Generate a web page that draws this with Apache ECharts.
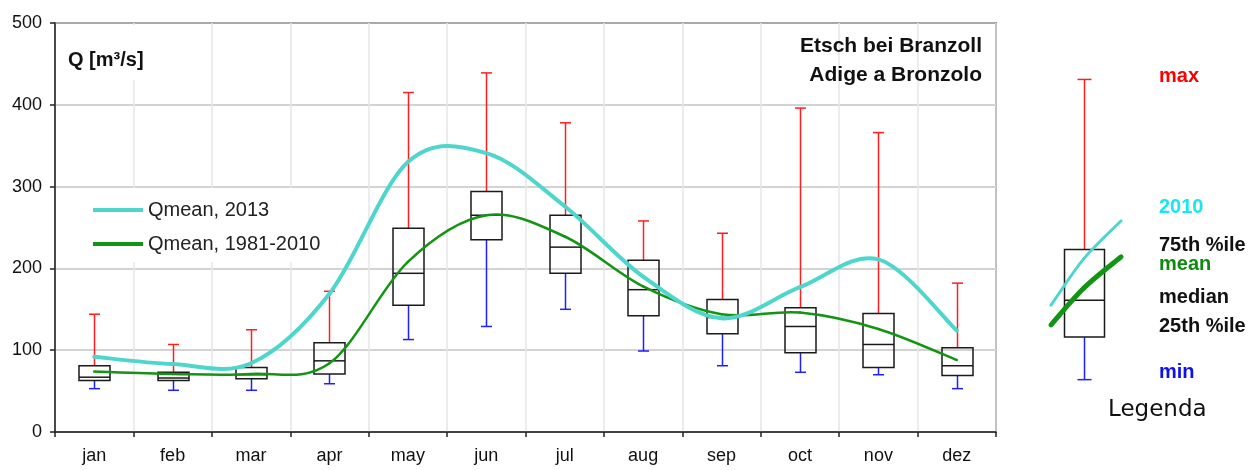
<!DOCTYPE html>
<html>
<head>
<meta charset="utf-8">
<script src="https://cdn.jsdelivr.net/npm/echarts@6/dist/echarts.min.js"></script>
<style>
html, body { margin: 0; padding: 0; background: #fff; }
#chart { width: 1255px; height: 470px; }
</style>
</head>
<body>
<div id="chart"></div>
<script>
// monthly discharge statistics, Etsch bei Branzoll
const months = ['jan', 'feb', 'mar', 'apr', 'may', 'jun', 'jul', 'aug', 'sep', 'oct', 'nov', 'dez']
const qMin = [53, 51, 51, 59, 113, 129, 150, 99, 81, 73, 70, 53]
const q25 = [63, 63, 65, 71, 155, 235, 194, 142, 120, 97, 79, 69]
const qMedian = [67, 66, 70, 87, 194, 265, 226, 174, 140, 129, 107, 81]
const q75 = [81, 73, 79, 109, 249, 294, 265, 210, 162, 152, 145, 103]
const qMax = [144, 107, 125, 172, 415, 439, 378, 258, 243, 396, 366, 182]
const qMean2013 = [92, 83, 84, 169, 330, 341, 276, 190, 139, 177, 211, 124]
const qMean8110 = [74, 71, 71, 84, 208, 265, 239, 178, 144, 146, 126, 88]
const yTicks = [0, 100, 200, 300, 400, 500]

// sample box for the "Legenda" on the right
const legendBox = [64, 116, 161, 223, 431] // min, 25th, median, 75th, max
const legendLine2013 = [[0, 155], [0.47, 212], [1, 258]]
const legendLineMean = [[0, 131], [0.47, 176], [1, 214]]

const RED = '#ff1f1f'
const BLUE = '#1f1fff'
const BLACK = '#1a1a1a'
const TURQ = '#4fd6cc'
const GREEN = '#129512'

const chart = echarts.init(document.getElementById('chart'))

const boxRenderer = (boxW, capW) => (params, api) => {
  const x = api.value(0)
  const pMin = api.coord([x, api.value(1)])
  const p25 = api.coord([x, api.value(2)])
  const pMed = api.coord([x, api.value(3)])
  const p75 = api.coord([x, api.value(4)])
  const pMax = api.coord([x, api.value(5)])
  const cx = Math.round(pMed[0]) + 0.5
  const h = boxW / 2
  const c = capW / 2
  const seg = (x1, y1, x2, y2, color) => ({
    type: 'line',
    shape: { x1, y1, x2, y2 },
    style: { stroke: color, lineWidth: 1.5 }
  })
  return {
    type: 'group',
    children: [
      seg(cx, p75[1], cx, pMax[1], RED),
      seg(cx - c, pMax[1], cx + c, pMax[1], RED),
      seg(cx, p25[1], cx, pMin[1], BLUE),
      seg(cx - c, pMin[1], cx + c, pMin[1], BLUE),
      {
        type: 'rect',
        shape: { x: cx - h, y: p75[1], width: boxW, height: p25[1] - p75[1] },
        style: { fill: 'none', stroke: BLACK, lineWidth: 1.5 }
      },
      seg(cx - h, pMed[1], cx + h, pMed[1], BLACK)
    ]
  }
}

// Excel-like smoothed line (cardinal spline, tension 1/6), drawn once on the first item
const curveRenderer = (color, width) => (params, api) => {
  if (params.dataIndex !== 0) return null
  const n = params.dataInsideLength
  const pts = []
  for (let i = 0; i < n; i++) {
    pts.push(api.coord([api.value(0, i), api.value(1, i)]))
  }
  const children = []
  for (let i = 0; i < n - 1; i++) {
    const p0 = pts[Math.max(i - 1, 0)]
    const p1 = pts[i]
    const p2 = pts[i + 1]
    const p3 = pts[Math.min(i + 2, n - 1)]
    children.push({
      type: 'bezierCurve',
      shape: {
        x1: p1[0], y1: p1[1],
        cpx1: p1[0] + (p2[0] - p0[0]) / 6, cpy1: p1[1] + (p2[1] - p0[1]) / 6,
        cpx2: p2[0] - (p3[0] - p1[0]) / 6, cpy2: p2[1] - (p3[1] - p1[1]) / 6,
        x2: p2[0], y2: p2[1]
      },
      style: { stroke: color, lineWidth: width, fill: null, lineCap: 'round' }
    })
  }
  return { type: 'group', children }
}

const boxData = months.map((m, i) => [i, qMin[i], q25[i], qMedian[i], q75[i], qMax[i]])

const labelFont = 'Liberation Sans, Arial, sans-serif'

const legendLabels = [
  { text: 'max', y: 77, color: '#ff0000' },
  { text: '2010', y: 208, color: '#19e6f0' },
  { text: '75th %ile', y: 246, color: '#111' },
  { text: 'mean', y: 265, color: '#0f8a0f' },
  { text: 'median', y: 298, color: '#111' },
  { text: '25th %ile', y: 327, color: '#111' },
  { text: 'min', y: 373, color: '#1010ee' }
]

chart.setOption({
  animation: false,
  grid: [
    { left: 55, top: 23, width: 941, height: 409, show: true, borderColor: '#222', borderWidth: 1.5, backgroundColor: 'transparent' },
    { left: 1051, top: 23, width: 70, height: 409 }
  ],
  legend: {
    data: ['Qmean, 2013', 'Qmean, 1981-2010'],
    orient: 'vertical',
    left: 87,
    top: 188,
    padding: [12, 6, 8, 6],
    backgroundColor: '#fff',
    icon: 'rect',
    itemWidth: 50,
    itemHeight: 4,
    itemGap: 14,
    textStyle: { fontFamily: labelFont, fontSize: 20, color: '#222' }
  },
  xAxis: [
    {
      type: 'category',
      data: months,
      gridIndex: 0,
      boundaryGap: true,
      axisLine: { lineStyle: { color: '#222', width: 1.5 } },
      axisTick: { show: true, length: 5, lineStyle: { color: '#222', width: 1.5 } },
      axisLabel: { color: '#111', fontFamily: labelFont, fontSize: 18, margin: 15 },
      splitLine: { show: true, lineStyle: { color: '#e6e6e6', width: 1.5 } }
    },
    { type: 'value', gridIndex: 1, min: 0, max: 1, show: false }
  ],
  yAxis: [
    {
      type: 'value',
      gridIndex: 0,
      min: yTicks[0],
      max: yTicks[yTicks.length - 1],
      interval: 100,
      axisLine: { show: true, lineStyle: { color: '#222', width: 1.5 } },
      axisTick: { show: true, length: 5, lineStyle: { color: '#222', width: 1.5 } },
      axisLabel: { color: '#111', fontFamily: labelFont, fontSize: 18, margin: 13 },
      splitLine: { show: true, lineStyle: { color: '#c4c4c4', width: 1.5 } }
    },
    { type: 'value', gridIndex: 1, min: 0, max: 500, show: false }
  ],
  series: [
    {
      name: 'boxes',
      type: 'custom',
      xAxisIndex: 0,
      yAxisIndex: 0,
      renderItem: boxRenderer(31, 11),
      encode: { x: 0, y: [1, 2, 3, 4, 5] },
      data: boxData,
      z: 2
    },
    {
      name: 'Qmean, 2013',
      type: 'custom',
      renderItem: curveRenderer(TURQ, 4),
      itemStyle: { color: TURQ },
      encode: { x: 0, y: 1 },
      data: qMean2013.map((v, i) => [i, v]),
      z: 4
    },
    {
      name: 'Qmean, 1981-2010',
      type: 'custom',
      renderItem: curveRenderer(GREEN, 2.5),
      itemStyle: { color: GREEN },
      encode: { x: 0, y: 1 },
      data: qMean8110.map((v, i) => [i, v]),
      z: 3
    },
    {
      name: 'legendBox',
      type: 'custom',
      xAxisIndex: 1,
      yAxisIndex: 1,
      renderItem: boxRenderer(40, 14),
      encode: { x: 0, y: [1, 2, 3, 4, 5] },
      data: [[0.47].concat(legendBox)],
      z: 2
    },
    {
      name: 'legend2013',
      type: 'custom',
      xAxisIndex: 1,
      yAxisIndex: 1,
      renderItem: curveRenderer(TURQ, 3),
      encode: { x: 0, y: 1 },
      data: legendLine2013,
      z: 4
    },
    {
      name: 'legendMean',
      type: 'custom',
      xAxisIndex: 1,
      yAxisIndex: 1,
      renderItem: curveRenderer(GREEN, 5),
      encode: { x: 0, y: 1 },
      data: legendLineMean,
      z: 3
    }
  ],
  graphic: [
    {
      type: 'text',
      left: 57,
      top: 25,
      z: 10,
      style: {
        text: 'Q [m³/s]', font: 'bold 20px ' + labelFont, fill: '#111',
        backgroundColor: '#fff', padding: [25, 20, 10, 11]
      }
    },
    {
      type: 'text',
      right: 1255 - 982,
      top: 36,
      z: 10,
      style: { text: 'Etsch bei Branzoll', font: 'bold 21px ' + labelFont, fill: '#111' }
    },
    {
      type: 'text',
      right: 1255 - 982,
      top: 65,
      z: 10,
      style: { text: 'Adige a Bronzolo', font: 'bold 21px ' + labelFont, fill: '#111' }
    },
    ...legendLabels.map((l) => ({
      type: 'text',
      left: 1159,
      top: l.y - 11,
      style: { text: l.text, font: 'bold 20px ' + labelFont, fill: l.color }
    })),
    {
      type: 'text',
      left: 1108,
      top: 399,
      style: { text: 'Legenda', font: '23px DejaVu Sans, sans-serif', fill: '#111' }
    }
  ]
})
</script>
</body>
</html>
